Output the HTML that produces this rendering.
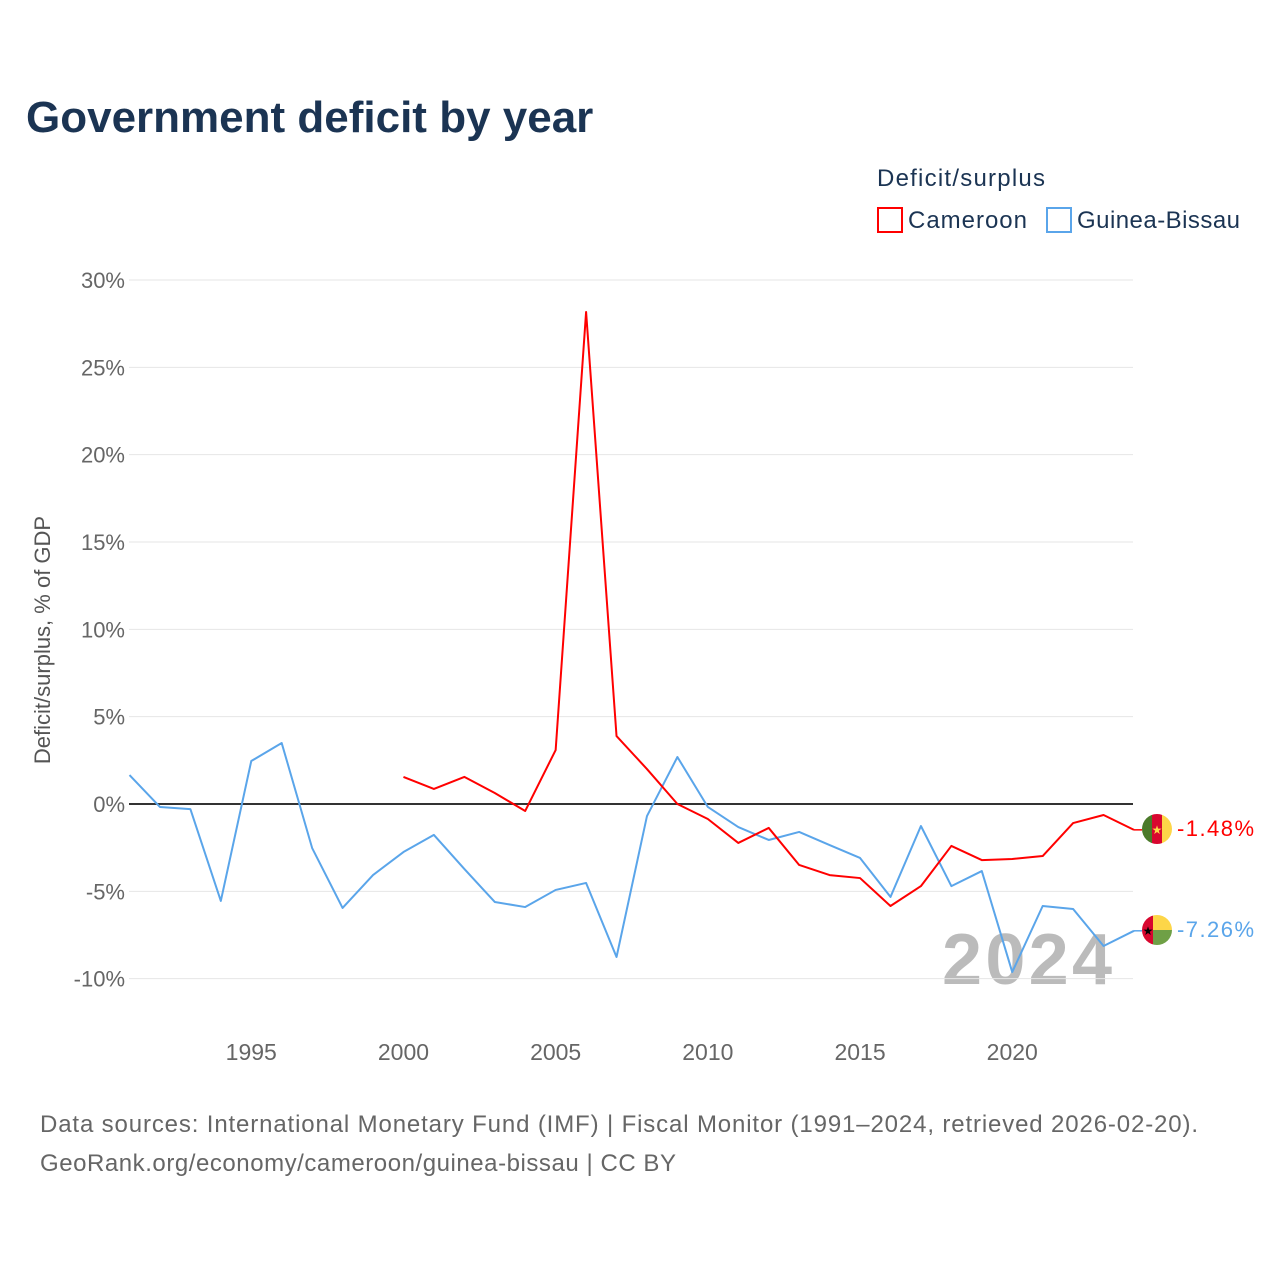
<!DOCTYPE html>
<html><head><meta charset="utf-8"><style>
body{margin:0;background:#fff;font-family:"Liberation Sans",sans-serif;}
#wrap{position:relative;width:1280px;height:1280px;overflow:hidden;}
</style></head><body>
<div id="wrap">
<svg id="svg" width="1280" height="1280">
<text x="26" y="132" font-size="44" font-weight="bold" fill="#1b3453">Government deficit by year</text>
<text x="877" y="186" font-size="24" fill="#1b3453" textLength="168">Deficit/surplus</text>
<g><rect x="878" y="208" width="24" height="24" fill="none" stroke="#ff0000" stroke-width="2"/><text x="908" y="228" font-size="24" fill="#1b3453" textLength="119">Cameroon</text></g>
<g><rect x="1047" y="208" width="24" height="24" fill="none" stroke="#5aa5ea" stroke-width="2"/><text x="1077" y="228" font-size="24" fill="#1b3453" textLength="163">Guinea-Bissau</text></g>
<text transform="translate(50,640) rotate(-90)" text-anchor="middle" font-size="22" fill="#555">Deficit/surplus, % of GDP</text>
<text x="942" y="984" font-size="72" font-weight="bold" fill="#bbb" textLength="170">2024</text>
<g id="grid"></g><g id="lines"></g>
<g><clipPath id="c1"><circle cx="1157" cy="829" r="15"/></clipPath><g clip-path="url(#c1)"><rect x="1142" y="814" width="10" height="30" fill="#4b7a2a"/><rect x="1152" y="814" width="10" height="30" fill="#d8072f"/><rect x="1162" y="814" width="10" height="30" fill="#fdd648"/><text x="1157" y="834" font-size="12" text-anchor="middle" fill="#fdd648">★</text></g></g>
<g><clipPath id="c2"><circle cx="1157" cy="930" r="15"/></clipPath><g clip-path="url(#c2)"><rect x="1142" y="915" width="11" height="30" fill="#d8072f"/><rect x="1153" y="915" width="19" height="15" fill="#fdd648"/><rect x="1153" y="930" width="19" height="15" fill="#6fa046"/><text x="1148" y="935" font-size="12" text-anchor="middle" fill="#000">★</text></g></g>
<text x="1177" y="836" font-size="22" fill="#ff0000" textLength="77">-1.48%</text>
<text x="1177" y="937" font-size="22" fill="#5aa5ea" textLength="77">-7.26%</text>
<text x="40" y="1132" font-size="24" fill="#666" textLength="1158">Data sources: International Monetary Fund (IMF) | Fiscal Monitor (1991–2024, retrieved 2026-02-20).</text>
<text x="40" y="1171" font-size="24" fill="#666" textLength="636">GeoRank.org/economy/cameroon/guinea-bissau | CC BY</text>
</svg></div>
<script>
const yTicks=[30,25,20,15,10,5,0,-5,-10];
const xTicks=[1995,2000,2005,2010,2015,2020];
const gbYears=[1991,1992,1993,1994,1995,1996,1997,1998,1999,2000,2001,2002,2003,2004,2005,2006,2007,2008,2009,2010,2011,2012,2013,2014,2015,2016,2017,2018,2019,2020,2021,2022,2023,2024];
const gbValues=[1.66,-0.17,-0.29,-5.55,2.46,3.49,-2.52,-5.95,-4.07,-2.75,-1.77,-3.72,-5.61,-5.9,-4.92,-4.52,-8.76,-0.69,2.69,-0.17,-1.32,-2.06,-1.6,-2.35,-3.09,-5.32,-1.26,-4.7,-3.84,-9.62,-5.84,-6.01,-8.13,-7.26];
const cmYears=[2000,2001,2002,2003,2004,2005,2006,2007,2008,2009,2010,2011,2012,2013,2014,2015,2016,2017,2018,2019,2020,2021,2022,2023,2024];
const cmValues=[1.55,0.86,1.55,0.63,-0.4,3.09,28.17,3.89,2.0,0,-0.86,-2.23,-1.37,-3.49,-4.07,-4.24,-5.84,-4.7,-2.4,-3.21,-3.15,-2.98,-1.09,-0.63,-1.48];
const NS="http://www.w3.org/2000/svg";
const X=y=>129.5+(y-1991)*(1134-129.5)/33;
const Y=v=>804-v*524/30;
const grid=document.getElementById('grid'),lines=document.getElementById('lines');
function mk(t,a,p){const e=document.createElementNS(NS,t);for(const k in a)e.setAttribute(k,a[k]);p.appendChild(e);return e;}
yTicks.forEach(v=>{
 const l=mk('line',{x1:129,x2:1133,y1:Y(v),y2:Y(v),stroke:v===0?'#333':'#e6e6e6','stroke-width':v===0?2:1},grid);
 
 
 const t=mk('text',{x:125,y:Y(v)+8,'text-anchor':'end','font-size':22,fill:'#666'},grid);
 t.textContent=v+'%';
 
 
});
xTicks.forEach(v=>{
 const t=mk('text',{x:X(v),y:1060,'text-anchor':'middle','font-size':23,fill:'#666'},grid);
 t.textContent=v;
 
 
});
function series(ys,vs,c,name){
 const p=mk('polyline',{points:ys.map((y,i)=>X(y)+','+Y(vs[i])).join(' '),fill:'none',stroke:c,'stroke-width':2,'stroke-linejoin':'round'},lines);
 
 
 const last=vs[vs.length-1];
 const l=mk('line',{x1:X(ys[ys.length-1]),x2:1142,y1:Y(last),y2:Y(last),stroke:c,'stroke-width':1.5},lines);
 
 
}
series(gbYears,gbValues,'#5aa5ea','line-guinea-bissau');
series(cmYears,cmValues,'#ff0000','line-cameroon');
</script>
</body></html>
